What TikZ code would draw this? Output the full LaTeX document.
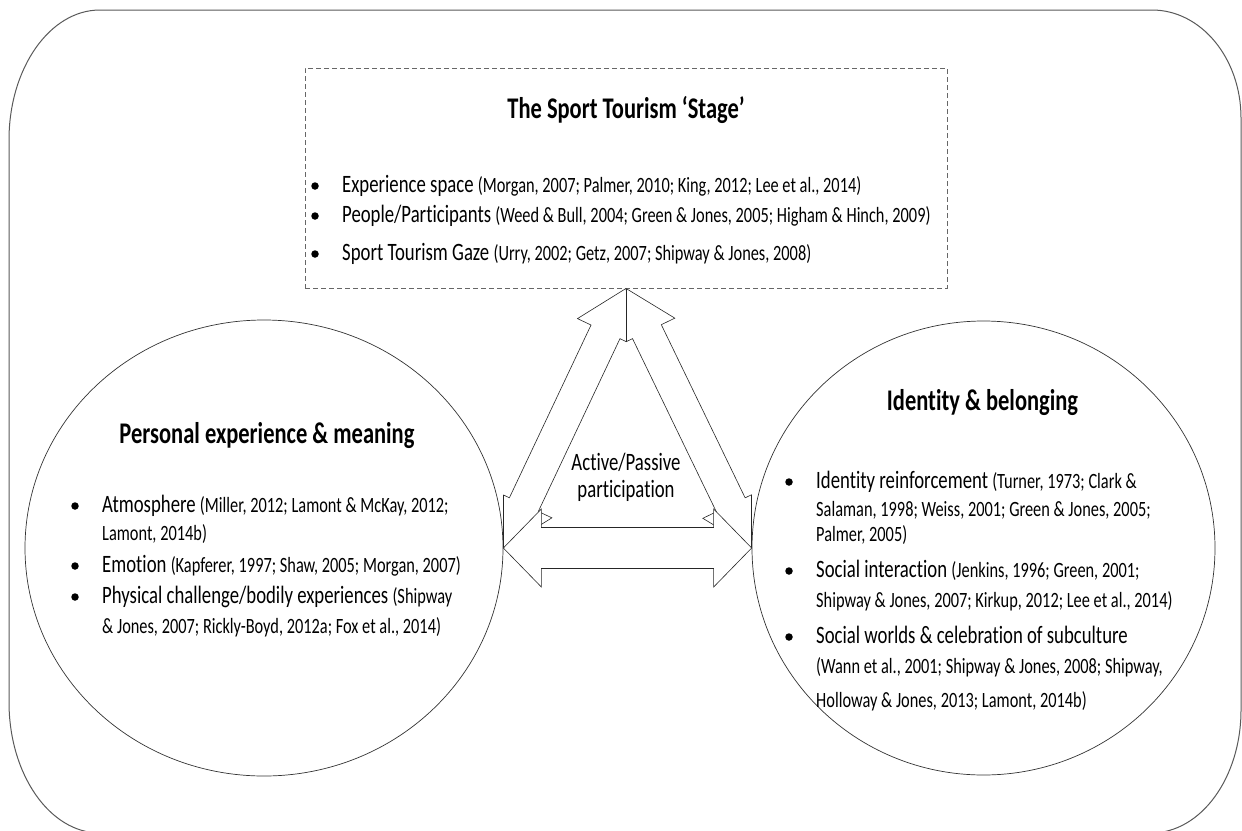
\documentclass[tikz,border=0pt]{standalone}
\usepackage{fontspec}
\setmainfont{Carlito}[FakeStretch=0.75, Ligatures=NoCommon]
\usetikzlibrary{calc,shapes.geometric}

\tikzstyle{frame}=[draw=black!65, line width=1pt]
\tikzstyle{stagebox}=[draw=black!60, dash pattern=on 5pt off 3pt, line width=0.9pt,
  minimum width=642pt, minimum height=220pt, inner sep=0pt]
\tikzstyle{themecircle}=[ellipse, draw=black!80, line width=0.7pt, inner sep=0pt]
\tikzstyle{blockarrow}=[draw=black!85, fill=white, line width=0.6pt, line join=miter]
\tikzstyle{seam}=[draw=black!85, line width=0.6pt]
\tikzstyle{heading}=[anchor=base, inner sep=0pt, font=\bfseries\fontsize{30}{36}\selectfont]
\tikzstyle{bodytext}=[anchor=base west, inner sep=0pt, font=\fontsize{25}{30}\selectfont]
\tikzstyle{midtext}=[anchor=base, inner sep=0pt, font=\fontsize{25}{30}\selectfont]
\tikzstyle{dot}=[circle, fill=black, inner sep=0pt, minimum size=7.5pt]

\newcommand{\refs}[1]{{\fontsize{21.8}{26}\selectfont #1}}
% one line of text, with or without a bullet in front
\newcommand{\textline}[4]{\node (#1) [bodytext] at (#2,#3) {#4};}
\newcommand{\bulletline}[4]{%
  \node (#1) [bodytext] at (#2,#3) {#4};
  \node (#1dot) [dot] at ($(#1.base west)+(-27,-6)$) {};}
% outline of a double headed block arrow from tip #1 to tip #2
% (#3 head length, #4 half head width, #5 half shaft width)
\newcommand{\dblarrow}[5]{(#1)
  -- ($(#1)!#3!(#2)!#4!90:(#2)$) -- ($(#1)!#3!(#2)!#5!90:(#2)$)
  -- ($(#2)!#3!(#1)!#5!-90:(#1)$) -- ($(#2)!#3!(#1)!#4!-90:(#1)$)
  -- (#2)
  -- ($(#2)!#3!(#1)!#4!90:(#1)$) -- ($(#2)!#3!(#1)!#5!90:(#1)$)
  -- ($(#1)!#3!(#2)!#5!-90:(#2)$) -- ($(#1)!#3!(#2)!#4!-90:(#2)$)
  -- cycle}

\begin{document}
\begin{tikzpicture}[x=1pt, y=-1pt]
\clip (0,0) rectangle (1242,830);

% Outer frame
\draw[frame] (100,10) -- (1152,10)
  arc[start angle=270, end angle=360, x radius=89, y radius=108] -- (1241,710)
  arc[start angle=0, end angle=90, x radius=90, y radius=123] -- (100,833)
  arc[start angle=90, end angle=180, x radius=91, y radius=131] -- (9,140)
  arc[start angle=180, end angle=270, x radius=91, y radius=130] -- cycle;

% Draw diagram elements
\node (stage) [stagebox] at (626,178) {};
\node (personal) [themecircle, minimum width=478pt, minimum height=456pt] at (264,548) {};
\node (identity) [themecircle, minimum width=463pt, minimum height=454pt] at (983.5,548) {};

% Draw arrows between elements
\begin{scope}
  \clip ($(personal.east)+(0,-400)$) rectangle ($(stage.south)+(0,400)$);
  \path[blockarrow] \dblarrow{stage.south}{personal.east}{48pt}{31pt}{16pt};
\end{scope}
\begin{scope}
  \clip ($(stage.south)+(0,-100)$) rectangle ($(identity.west)+(0,400)$);
  \path[blockarrow] \dblarrow{stage.south}{identity.west}{48pt}{31pt}{16pt};
\end{scope}
\begin{scope}
  \clip \dblarrow{stage.south}{personal.east}{48pt}{31pt}{16pt};
  \draw[seam] (stage.south) -- ++(0,120);
  \draw[seam] (personal.east) -- ++(0,-120);
\end{scope}
\begin{scope}
  \clip \dblarrow{stage.south}{identity.west}{48pt}{31pt}{16pt};
  \draw[seam] (stage.south) -- ++(0,120);
  \draw[seam] (identity.west) -- ++(0,-120);
\end{scope}
\path[blockarrow] \dblarrow{personal.east}{identity.west}{38pt}{39pt}{20.5pt};

% The sport tourism stage
\node (stagetitle) [heading] at (626,118) {The Sport Tourism ‘Stage’};
\bulletline{space}{342}{192}{Experience space \refs{(Morgan, 2007; Palmer, 2010; King, 2012; Lee et al., 2014)}}
\bulletline{people}{342}{222}{People/Participants \refs{(Weed \& Bull, 2004; Green \& Jones, 2005; Higham \& Hinch, 2009)}}
\bulletline{gaze}{342}{260}{Sport Tourism Gaze \refs{(Urry, 2002; Getz, 2007; Shipway \& Jones, 2008)}}

% Personal experience
\node (personaltitle) [heading] at (267,443) {Personal experience \& meaning};
\bulletline{atmos}{102}{512}{Atmosphere \refs{(Miller, 2012; Lamont \& McKay, 2012;}}
\textline{atmosb}{102}{540}{\refs{Lamont, 2014b)}}
\bulletline{emotion}{102}{572}{Emotion \refs{(Kapferer, 1997; Shaw, 2005; Morgan, 2007)}}
\bulletline{physical}{102}{603}{Physical challenge/bodily experiences \refs{(Shipway}}
\textline{physicalb}{102}{633}{\refs{\& Jones, 2007; Rickly-Boyd, 2012a; Fox et al., 2014)}}

% Identity
\node (identitytitle) [heading] at (982.5,410) {Identity \& belonging};
\bulletline{reinforce}{816}{488}{Identity reinforcement \refs{(Turner, 1973; Clark \&}}
\textline{reinforceb}{816}{516}{\refs{Salaman, 1998; Weiss, 2001; Green \& Jones, 2005;}}
\textline{reinforcec}{816}{541}{\refs{Palmer, 2005)}}
\bulletline{social}{816}{577}{Social interaction \refs{(Jenkins, 1996; Green, 2001;}}
\textline{socialb}{816}{607}{\refs{Shipway \& Jones, 2007; Kirkup, 2012; Lee et al., 2014)}}
\bulletline{worlds}{816}{643}{Social worlds \& celebration of subculture}
\textline{worldsb}{816}{673}{\refs{(Wann et al., 2001; Shipway \& Jones, 2008; Shipway,}}
\textline{worldsc}{816}{707}{\refs{Holloway \& Jones, 2013; Lamont, 2014b)}}

% Participation
\node (active) [midtext] at (626,470) {Active/Passive};
\node (passive) [midtext] at (626,497) {participation};
\end{tikzpicture}
\end{document}
